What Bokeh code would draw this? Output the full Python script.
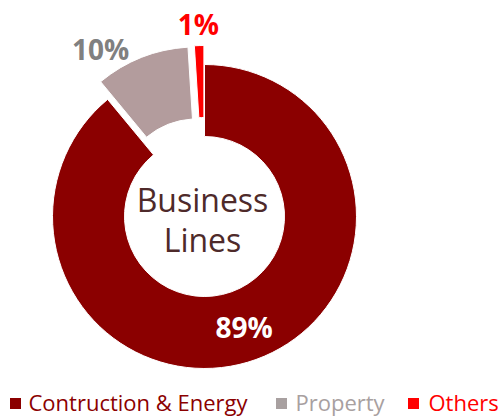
import numpy as np
from bokeh.plotting import figure
from bokeh.models import Range1d
from bokeh.core.properties import value
from bokeh.embed import file_html
from bokeh.resources import INLINE

# ---- data ----
categories = ["Contruction & Energy", "Property", "Others"]
shares = [89, 10, 1]
labels = ["89%", "10%", "1%"]
center_title = ["Business", "Lines"]

# ---- styles ----
slice_colors = ["#8B0000", "#B39C9D", "#FF0000"]
label_colors = ["#FFFFFF", "#808080", "#FF0000"]
legend_colors = ["#8B0000", "#A8A0A0", "#FF0000"]
FONT = "Open Sans"

# ---- layout ----
W, H = 498, 416
cx, cy = 204, 200
r_in, r_out = 80, 152
explode = [0, 19, 19]
label_r = [117, 197, 193]
label_shift = [0, -10.2, 0]  # degrees, clockwise

p = figure(width=W, height=H, output_backend="svg", toolbar_location=None,
           x_range=Range1d(0, W), y_range=Range1d(0, H),
           x_axis_type=None, y_axis_type=None, min_border=0,
           outline_line_color=None, background_fill_color="white")
p.grid.visible = False

vals = np.array(shares, dtype=float)
frac = vals / vals.sum()
ends = np.cumsum(frac)
starts = ends - frac
mid_cw = (starts + ends) / 2 * 2 * np.pi

start_ang = np.pi / 2 - starts * 2 * np.pi
end_ang = np.pi / 2 - ends * 2 * np.pi
mid_ang = np.pi / 2 - mid_cw

xs = cx + np.array(explode) * np.cos(mid_ang)
ys = cy + np.array(explode) * np.sin(mid_ang)

p.annular_wedge(x=xs, y=ys, inner_radius=r_in, outer_radius=r_out,
                start_angle=start_ang, end_angle=end_ang, direction="clock",
                fill_color=slice_colors, line_color="white", line_width=1)

lab_ang = mid_ang - np.radians(label_shift)
lx = cx + np.array(label_r) * np.cos(lab_ang)
ly = cy + np.array(label_r) * np.sin(lab_ang)
p.text(x=lx, y=ly, text=labels, text_color=label_colors,
       text_font=value(FONT), text_font_style="bold", text_font_size="28px",
       text_align="center", text_baseline="middle")

p.text(x=[cx - 2, cx - 2], y=[cy + 17, cy - 23], text=center_title,
       text_color="#4E2A2A", text_font=value(FONT), text_font_size="32px",
       text_align="center", text_baseline="middle")

# legend
sq_x = [15, 281, 413]
tx_x = [28, 295, 428]
p.scatter(x=sq_x, y=[13] * 3, marker="square", size=11,
          fill_color=legend_colors, line_color=None)
p.text(x=tx_x, y=[15] * 3, text=categories, text_color=legend_colors,
       text_font=value(FONT), text_font_size="22px",
       text_align="left", text_baseline="middle")

open("out.html", "w").write(file_html(p, INLINE))
